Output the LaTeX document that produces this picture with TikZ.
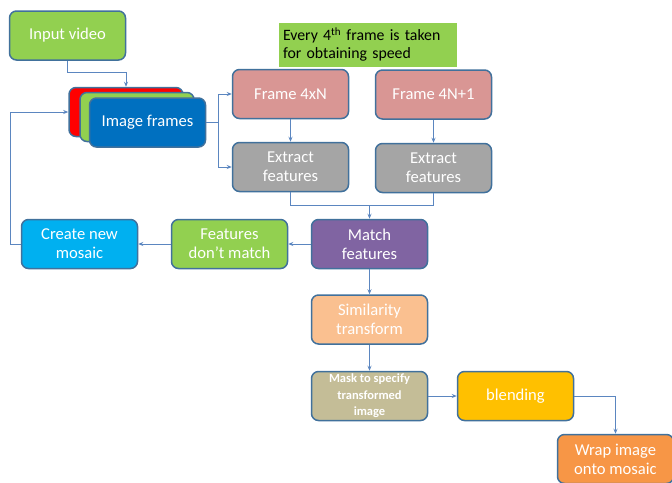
\documentclass[tikz,border=0pt]{standalone}
\usepackage{fontspec}
\setmainfont{Carlito}
\usetikzlibrary{arrows.meta,calc}
\definecolor{edge}{HTML}{41719C}
\definecolor{conn}{HTML}{5B86C0}
\definecolor{cgreen}{HTML}{92D050}
\definecolor{cblue}{HTML}{0070C0}
\definecolor{cred}{HTML}{FF0000}
\definecolor{cpink}{HTML}{D99694}
\definecolor{cgray}{HTML}{A5A5A5}
\definecolor{cpurple}{HTML}{8064A2}
\definecolor{ccyan}{HTML}{00B0F0}
\definecolor{cpeach}{HTML}{FAC090}
\definecolor{ctan}{HTML}{C4BD97}
\definecolor{cgold}{HTML}{FFC000}
\definecolor{corange}{HTML}{F79646}
\tikzset{
  box/.style={draw=edge, line width=1.5pt, rounded corners=7pt, minimum width=116pt, minimum height=49pt,
    text=white, align=center, inner sep=2pt, font=\fontsize{16.6}{19}\selectfont},
  cn/.style={draw=conn, line width=0.8pt},
  ar/.style={cn, -{Stealth[length=5pt,width=4pt]}},
}
\begin{document}
\begin{tikzpicture}[x=1pt,y=-1pt]
\useasboundingbox (0,0) rectangle (672,482);
\clip (0,0) rectangle (672,482);
\fill[white] (0,0) rectangle (672,482);
% nodes
\node[box, fill=cgreen] (iv) at (67.5,35.5) {Input video};
\node[box, fill=cred, minimum width=114pt] (red) at (126,112) {};
\node[box, fill=cgreen, minimum width=114pt] (grn) at (137,117) {};
\node[box, fill=cblue] (blue) at (147.5,122.5) {Image frames};
\node[fill=cgreen, minimum width=178pt, minimum height=44pt, text width=170pt, align=left, inner sep=0pt,
  font=\fontsize{15.8}{18}\selectfont] (note) at (368,44.5) {Every 4\textsuperscript{th} frame is taken\\for obtaining speed};
\node[box, fill=cpink] (f1) at (290.5,94) {Frame 4xN};
\node[box, fill=cpink] (f2) at (433.5,94.5) {Frame 4N+1};
\node[box, fill=cgray] (e1) at (290.5,167) {Extract\\features};
\node[box, fill=cgray] (e2) at (433.5,168) {Extract\\features};
\node[box, fill=cpurple] (m) at (369.5,244) {Match\\features};
\node[box, fill=cgreen] (fd) at (229.5,244) {Features\\don’t match};
\node[box, fill=ccyan] (cnm) at (79.5,244) {Create new\\mosaic};
\node[box, fill=cpeach] (sim) at (369.5,319.5) {Similarity\\transform};
\node[box, fill=ctan, font=\bfseries\fontsize{12.5}{16.5}\selectfont] (mask) at (369.5,396) {Mask to specify\\transformed\\image};
\node[box, fill=cgold] (bl) at (515.5,396) {blending};
\node[box, fill=corange] (wr) at (615.5,459) {Wrap image\\onto mosaic};
% connectors
\draw[ar] (iv.south) -- ++(0,12) -| (red.north);
\coordinate (sp) at (218,122.5);
\draw[cn] (blue.east) -- (sp);
\draw[ar] (sp) |- (f1.west);
\draw[ar] (sp) |- (e1.west);
\draw[ar] (f1.south) -- (e1.north);
\draw[ar] (f2.south) -- (e2.north);
\coordinate (j) at (369.5,205);
\draw[cn] (e1.south) |- (j);
\draw[cn] (e2.south) |- (j);
\draw[ar] (j) -- (m.north);
\draw[ar] (m.west) -- (fd.east);
\draw[ar] (fd.west) -- (cnm.east);
\draw[ar] (cnm.west) -- ++(-10,0) |- (red.west);
\draw[ar] (m.south) -- (sim.north);
\draw[ar] (sim.south) -- (mask.north);
\draw[ar] (mask.east) -- (bl.west);
\draw[ar] (bl.east) -| (wr.north);
\end{tikzpicture}
\end{document}
